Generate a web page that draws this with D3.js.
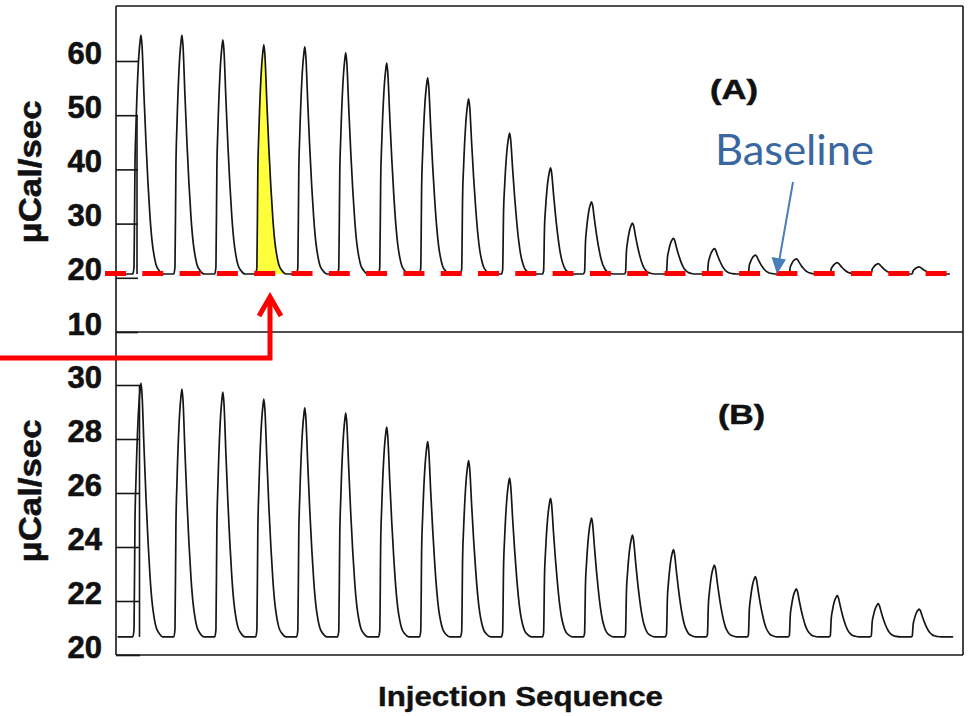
<!DOCTYPE html>
<html>
<head>
<meta charset="utf-8">
<script src="https://cdn.jsdelivr.net/npm/d3@7/dist/d3.min.js"></script>
<style>
  html, body { margin: 0; padding: 0; background: #fff; }
  svg { display: block; }
</style>
</head>
<body>
<svg id="chart" width="968" height="716"></svg>
<script>
// ---------------- data ----------------
const injections = [1,2,3,4,5,6,7,8,9,10,11,12,13,14,15,16,17,18,19,20];
const peaksA = [64.8,64.8,63.9,63.0,62.6,61.5,59.6,56.9,53.0,46.7,40.3,34.0,30.1,27.3,25.4,24.2,23.5,22.8,22.6,22.0];
const peaksB = [30.07,29.85,29.74,29.48,29.15,28.96,28.44,27.9,27.2,26.55,25.8,25.07,24.44,23.9,23.33,22.9,22.45,22.2,21.9,21.7];
const baselineA = 20.7;
const baselineB = 20.67;
// shape of one injection peak (time offset in injection intervals, fraction of height)
const shapeOffsets   = [-0.2, -0.17, -0.147, -0.122, -0.073, -0.024, 0, 0.024, 0.073, 0.122, 0.171, 0.22, 0.269, 0.317, 0.366, 0.44, 0.54];
const shapeFractions = [0,    0.03,  0.45,   0.62,   0.85,   0.97,  1, 0.96,  0.75,  0.55,  0.38,  0.24, 0.14,  0.08,  0.04,  0.015, 0];
const traceStartA = 0.39, traceEndA = 20.75;
const traceStartB = 0.43, traceEndB = 20.83;
const ticksA = [10,20,30,40,50,60];
const ticksB = [20,22,24,26,28,30];
const highlighted = 4;   // injection shaded yellow
const yLabel = "\u03bcCal/sec";
const xLabel = "Injection Sequence";
const panelA = "(A)", panelB = "(B)";
const noteText = "Baseline";

// ---------------- layout ----------------
const svg = d3.select("#chart");
const L = 116, R = 963, TOP = 6, MID = 332, BOT = 655;
const x = d3.scaleLinear().domain([0.39, 21.07]).range([L, R]);
const yA = d3.scaleLinear().domain([10, 60]).range([332, 61]);
const yB = d3.scaleLinear().domain([20, 30]).range([655, 385]);

function buildTrace(peaks, base, t0, t1) {
  const pts = [[t0, base]];
  injections.forEach((inj, i) => {
    shapeOffsets.forEach((o, k) => {
      pts.push([inj + o, base + (peaks[i] - base) * shapeFractions[k]]);
    });
  });
  pts.push([t1, base]);
  return pts;
}
function buildPeak(peaks, base, inj) {
  return shapeOffsets.map((o, k) => [inj + o, base + (peaks[inj - 1] - base) * shapeFractions[k]]);
}

const ink = "#161616";
const font = "'Liberation Sans', Arial, sans-serif";

// yellow highlighted peak
const hp = buildPeak(peaksA, baselineA, highlighted);
svg.append("path")
  .attr("d", d3.area().x(d => x(d[0])).y0(yA(baselineA)).y1(d => yA(d[1])).curve(d3.curveMonotoneX)(hp))
  .attr("fill", "#ffff3c");

// frame
const frame = svg.append("g").attr("stroke", ink).attr("stroke-width", 1.6).attr("fill", "none");
frame.append("line").attr("x1", L).attr("x2", L).attr("y1", TOP).attr("y2", BOT);
frame.append("line").attr("x1", L).attr("x2", R).attr("y1", TOP).attr("y2", TOP);
frame.append("line").attr("x1", L).attr("x2", R).attr("y1", MID).attr("y2", MID);
frame.append("line").attr("x1", L).attr("x2", R).attr("y1", BOT).attr("y2", BOT);
frame.append("line").attr("x1", R).attr("x2", R).attr("y1", TOP).attr("y2", BOT);
// inner brackets joining the ticks
frame.append("line").attr("x1", 137).attr("x2", 137).attr("y1", yA(50)).attr("y2", yA(baselineA));
frame.append("line").attr("x1", 139.5).attr("x2", 139.5).attr("y1", yB(30)).attr("y2", yB(baselineB));

// axes
function styleAxis(g) {
  g.select(".domain").remove();
  g.selectAll(".tick line").attr("stroke", ink).attr("stroke-width", 1.6);
  g.selectAll(".tick text")
    .attr("font-family", font)
    .attr("font-weight", "bold")
    .attr("font-size", 31)
    .attr("fill", "#111")
    .attr("stroke", "#111").attr("stroke-width", 0.6)
    .attr("dy", "0.07em");
}
svg.append("g").attr("transform", `translate(${L},0)`)
  .call(d3.axisLeft(yA).tickValues(ticksA).tickFormat(d3.format("d")).tickSizeInner(-22).tickSizeOuter(0).tickPadding(14))
  .call(styleAxis);
svg.append("g").attr("transform", `translate(${L},0)`)
  .call(d3.axisLeft(yB).tickValues(ticksB).tickFormat(d3.format("d")).tickSizeInner(-24).tickSizeOuter(0).tickPadding(14))
  .call(styleAxis);

// traces
const lineA = d3.line().x(d => x(d[0])).y(d => yA(d[1])).curve(d3.curveMonotoneX);
const lineB = d3.line().x(d => x(d[0])).y(d => yB(d[1])).curve(d3.curveMonotoneX);
svg.append("path").attr("d", lineA(buildTrace(peaksA, baselineA, traceStartA, traceEndA)))
  .attr("fill", "none").attr("stroke", ink).attr("stroke-width", 1.7).attr("stroke-linejoin", "round");
svg.append("path").attr("d", lineB(buildTrace(peaksB, baselineB, traceStartB, traceEndB)))
  .attr("fill", "none").attr("stroke", ink).attr("stroke-width", 1.7).attr("stroke-linejoin", "round");

// red dashed baseline
svg.append("line")
  .attr("x1", 105).attr("x2", 948)
  .attr("y1", yA(baselineA) - 0.5).attr("y2", yA(baselineA) - 0.5)
  .attr("stroke", "#ff0000").attr("stroke-width", 5)
  .attr("stroke-dasharray", "21 16.3");

// red arrow
const ax = 270, arrowTip = 297;
svg.append("path")
  .attr("d", `M0,358 L${ax},358 L${ax},${arrowTip + 2}`)
  .attr("fill", "none").attr("stroke", "#ff0000").attr("stroke-width", 5).attr("stroke-linejoin", "miter");
svg.append("path")
  .attr("d", `M${ax - 11},316 L${ax},${arrowTip} L${ax + 11},316`)
  .attr("fill", "none").attr("stroke", "#ff0000").attr("stroke-width", 5).attr("stroke-linejoin", "miter");

// labels
[172, 491].forEach(cy => {
  svg.append("text")
    .attr("transform", `translate(41,${cy}) rotate(-90)`)
    .attr("text-anchor", "middle")
    .attr("textLength", 143).attr("lengthAdjust", "spacingAndGlyphs")
    .attr("font-family", font).attr("font-weight", "bold").attr("font-size", 32)
    .attr("fill", "#111").attr("stroke", "#111").attr("stroke-width", 0.5)
    .text(yLabel);
});
svg.append("text")
  .attr("x", 378).attr("y", 706)
  .attr("textLength", 285).attr("lengthAdjust", "spacingAndGlyphs")
  .attr("font-family", font).attr("font-weight", "bold").attr("font-size", 28)
  .attr("fill", "#111").attr("stroke", "#111").attr("stroke-width", 0.4)
  .text(xLabel);
svg.append("text")
  .attr("x", 710).attr("y", 99)
  .attr("textLength", 48).attr("lengthAdjust", "spacingAndGlyphs")
  .attr("font-family", font).attr("font-weight", "bold").attr("font-size", 27)
  .attr("fill", "#111").attr("stroke", "#111").attr("stroke-width", 0.5)
  .text(panelA);
svg.append("text")
  .attr("x", 718).attr("y", 424)
  .attr("textLength", 47).attr("lengthAdjust", "spacingAndGlyphs")
  .attr("font-family", font).attr("font-weight", "bold").attr("font-size", 27)
  .attr("fill", "#111").attr("stroke", "#111").attr("stroke-width", 0.5)
  .text(panelB);

// Baseline annotation
svg.append("text")
  .attr("x", 715).attr("y", 165)
  .attr("textLength", 159).attr("lengthAdjust", "spacingAndGlyphs")
  .attr("font-family", "Lato, 'Open Sans', sans-serif").attr("font-size", 42)
  .attr("fill", "#3b67a0").text(noteText);
svg.append("line")
  .attr("x1", 793).attr("y1", 182).attr("x2", 779.5).attr("y2", 259)
  .attr("stroke", "#4a7ebb").attr("stroke-width", 2);
svg.append("path")
  .attr("d", "M771.5,257 L777,274 L786,259.5 Z")
  .attr("fill", "#4a7ebb");
</script>
</body>
</html>
